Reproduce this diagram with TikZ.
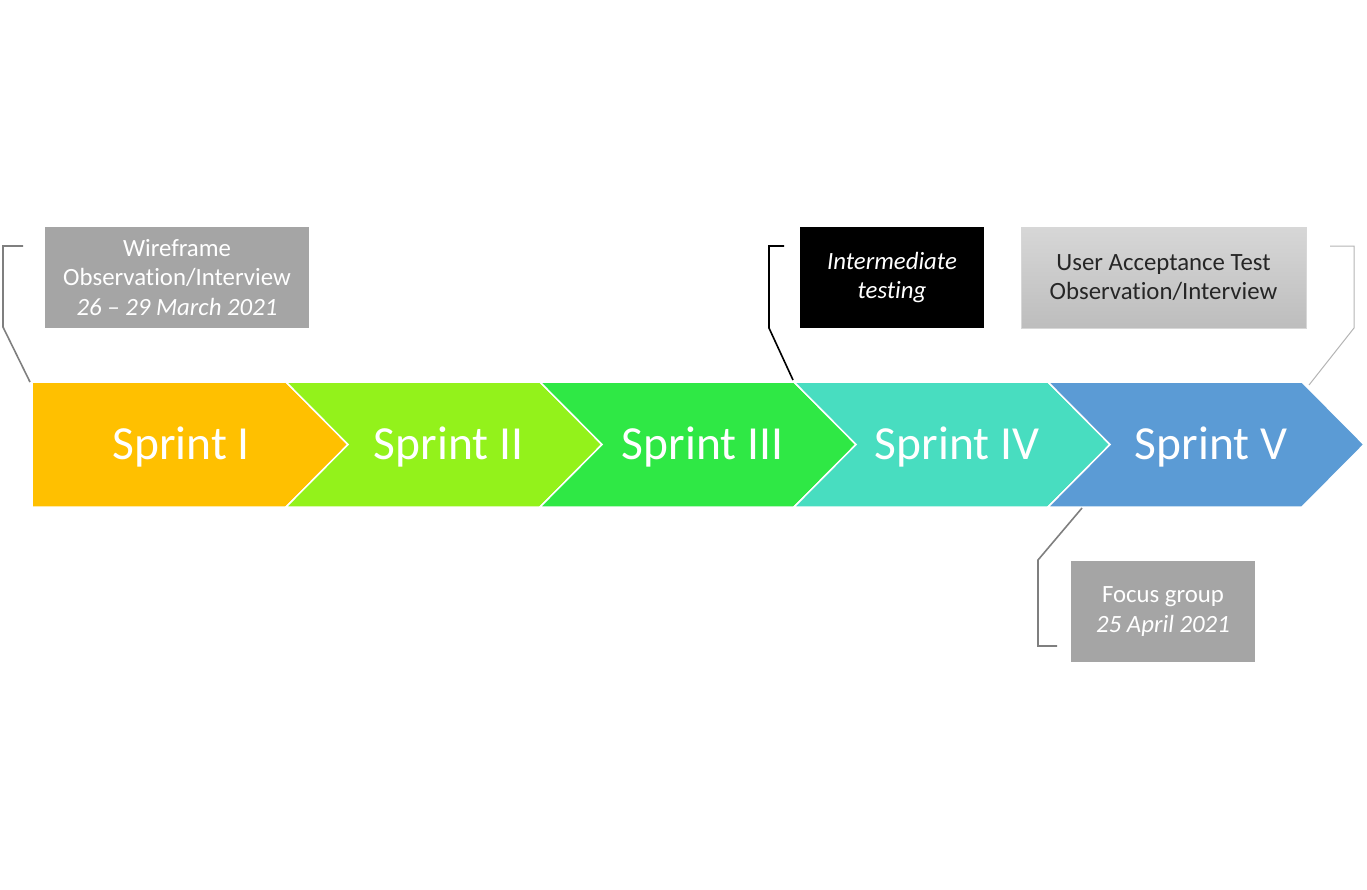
\documentclass[tikz,border=0pt]{standalone}
\usepackage{fontspec}
\setmainfont{Carlito}[Ligatures=NoCommon]
\definecolor{sI}{HTML}{FFC000}
\definecolor{sII}{HTML}{93F21B}
\definecolor{sIII}{HTML}{2FE845}
\definecolor{sIV}{HTML}{48DDC0}
\definecolor{sV}{HTML}{5B9BD5}
\definecolor{boxgray}{HTML}{A5A5A5}
\definecolor{lineg}{HTML}{7F7F7F}
\definecolor{lineL}{HTML}{B4B4B4}
\definecolor{uatT}{HTML}{D7D7D7}
\definecolor{uatB}{HTML}{BDBDBD}
\definecolor{uattext}{HTML}{262626}
\begin{document}
\begin{tikzpicture}[x=1pt,y=-1pt,
  chev/.style={draw=white,line width=1.5pt,line join=miter},
  slabel/.style={text=white,font=\fontsize{47.5}{56}\selectfont,inner sep=0pt},
  callout/.style={minimum width=#1,minimum height=101pt,inner sep=0pt,align=center,font=\fontsize{24.8}{29.5}\selectfont},
  conn/.style={line width=1.6pt,line join=miter}]
\useasboundingbox (0,0) rectangle (1367,889);
% chevrons
\fill[sI,chev] (32,382) -- (286,382) -- (348,444.5) -- (286,507) -- (32,507) -- cycle;
\fill[sII,chev] (286,382) -- (540,382) -- (602,444.5) -- (540,507) -- (286,507) -- (348,444.5) -- cycle;
\fill[sIII,chev] (540,382) -- (794,382) -- (856,444.5) -- (794,507) -- (540,507) -- (602,444.5) -- cycle;
\fill[sIV,chev] (794,382) -- (1048,382) -- (1110,444.5) -- (1048,507) -- (794,507) -- (856,444.5) -- cycle;
\fill[sV,chev] (1048,382) -- (1302,382) -- (1364,444.5) -- (1302,507) -- (1048,507) -- (1110,444.5) -- cycle;
\node[slabel] (s1) at (181,446.5) {Sprint I};
\node[slabel] (s2) at (448.5,446.5) {Sprint II};
\node[slabel] (s3) at (702.5,446.5) {Sprint III};
\node[slabel] (s4) at (957,446.5) {Sprint IV};
\node[slabel] (s5) at (1211,446.5) {Sprint V};
% callout boxes
\node[callout=264pt,fill=boxgray,text=white] (b1) at (177,277.5) {\raisebox{-1.5pt}{}Wireframe\\Observation/Interview\\\textit{26 – 29 March 2021}};
\node[callout=184pt,fill=black,text=white] (b2) at (892,277.5) {\textit{Intermediate}\\\textit{testing}};
\node[callout=285pt,top color=uatT,bottom color=uatB,draw=uatT,line width=0.8pt,text=uattext] (b3) at (1163.5,277.5) {User Acceptance Test\\Observation/Interview};
\node[callout=184pt,fill=boxgray,text=white] (b4) at (1163,611.5) {Focus group\\\textit{25 April 2021}};
% connector anchor points
\coordinate (a1) at (30,382);
\coordinate (e1) at (23,246);
\coordinate (a2) at (793,380);
\coordinate (e2) at (784,246);
\coordinate (a3) at (1309,385);
\coordinate (e3) at (1330,246);
\coordinate (a4) at (1082,508);
\coordinate (e4) at (1057,646);
% connectors
\draw[conn,lineg] (a1) -- (3,327) -- (3,246) -- (e1);
\draw[conn,black] (a2) -- (769,328) -- (769,246) -- (e2);
\draw[line width=1pt,line join=miter,lineL] (a3) -- (1354,328) -- (1354,246) -- (e3);
\draw[conn,lineg] (a4) -- (1038,560) -- (1038,646) -- (e4);
\end{tikzpicture}
\end{document}
